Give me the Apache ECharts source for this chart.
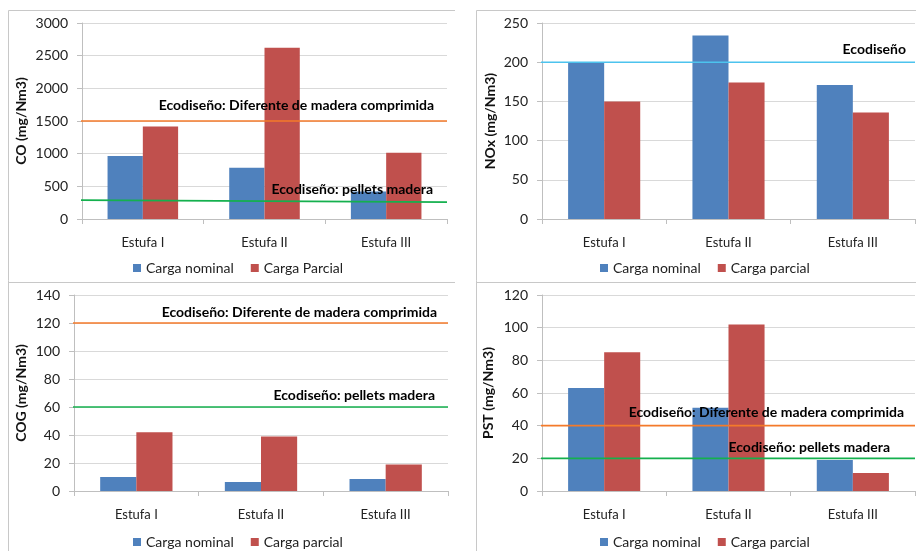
<!DOCTYPE html>
<html><head><meta charset="utf-8">
<script src="https://cdn.jsdelivr.net/npm/echarts@6/dist/echarts.min.js"></script>
<style>html,body{margin:0;padding:0;background:#fff}#c{width:916px;height:551px}</style>
</head><body><div id="c"></div>
<script>
const categories = ['Estufa I', 'Estufa II', 'Estufa III'];
const coNominal = [965, 785, 420];
const coParcial = [1415, 2620, 1015];
const noxNominal = [199, 234, 171];
const noxParcial = [150, 174, 136];
const cogNominal = [10, 6.5, 8.5];
const cogParcial = [42, 39, 19];
const pstNominal = [63, 51, 19];
const pstParcial = [85, 102, 11];
// limit lines: [value at left, value at right]
const coLimitMadera = [1500, 1500];
const coLimitPellets = [290, 258];
const noxLimit = [200, 200];
const cogLimitMadera = [120, 120];
const cogLimitPellets = [60, 60];
const pstLimitMadera = [40, 40];
const pstLimitPellets = [20, 20];
const yNames = ['CO (mg/Nm3)', 'NOx (mg/Nm3)', 'COG (mg/Nm3)', 'PST (mg/Nm3)'];
const yMax = [3000, 250, 140, 120];
const yStep = [500, 50, 20, 20];
const labelMadera = 'Ecodiseño: Diferente de madera comprimida';
const labelPellets = 'Ecodiseño: pellets madera';
const labelNox = 'Ecodiseño';

const BLUE = '#4F81BD', RED = '#C0504D', ORANGE = '#F47A2A', GREEN = '#14B04E', CYAN = '#4CC3EE';
const FONT = 'Lato';
const grids = [
  {left: 82, top: 23, width: 365, height: 196},
  {left: 542, top: 23, width: 373, height: 196},
  {left: 74, top: 295, width: 374, height: 196},
  {left: 542, top: 295, width: 373, height: 196}
];
const nameGaps = [54, 45, 46, 47];
const X0 = -0.022;

const xAxes = [], yAxes = [];
grids.forEach((g, i) => {
  xAxes.push({
    type: 'category', gridIndex: i, data: categories,
    axisLine: {lineStyle: {color: '#bfbfbf'}},
    axisTick: {show: true, length: 5, lineStyle: {color: '#bfbfbf'}},
    axisLabel: {color: '#222', fontFamily: FONT, fontSize: 13, margin: 17}
  });
  yAxes.push({
    type: 'value', gridIndex: i, min: 0, max: yMax[i], interval: yStep[i],
    name: yNames[i], nameLocation: 'middle', nameGap: nameGaps[i],
    nameTextStyle: {color: '#111', fontFamily: FONT, fontWeight: 'bold', fontSize: 14},
    axisLine: {show: true, lineStyle: {color: '#bfbfbf'}},
    axisTick: {show: true, length: 5, lineStyle: {color: '#bfbfbf'}},
    axisLabel: {color: '#222', fontFamily: FONT, fontSize: 14, margin: 14, formatter: v => String(v)},
    splitLine: {lineStyle: {color: '#d9d9d9'}}
  });
});
grids.forEach((g, i) => {
  xAxes.push({type: 'value', gridIndex: i, min: 0, max: 1, show: false});
});

function bars(name, data, color, i) {
  return {
    type: 'bar', name, data, xAxisIndex: i, yAxisIndex: i,
    barGap: '0%', barCategoryGap: '42%',
    itemStyle: {color}, z: 2
  };
}
function limit(vals, color, i, text, dx, dy) {
  return {
    type: 'line', xAxisIndex: 4 + i, yAxisIndex: i, clip: false,
    symbol: 'circle', symbolSize: 0, silent: true, z: 3,
    lineStyle: {color, width: 1.6},
    data: [
      [X0, vals[0]],
      {value: [1, vals[1]], label: {
        show: !!text, formatter: text, position: 'top', align: 'right',
        offset: [dx, dy], color: '#000', fontFamily: FONT, fontWeight: 'bold', fontSize: 14
      }}
    ]
  };
}

const series = [
  bars('Carga nominal', coNominal, BLUE, 0),
  bars('Carga Parcial', coParcial, RED, 0),
  limit(coLimitMadera, ORANGE, 0, labelMadera, -13, -4),
  limit(coLimitPellets, GREEN, 0, labelPellets, -14, -1),
  bars('Carga nominal', noxNominal, BLUE, 1),
  bars('Carga parcial', noxParcial, RED, 1),
  limit(noxLimit, CYAN, 1, labelNox, -9, -1),
  bars('Carga nominal', cogNominal, BLUE, 2),
  bars('Carga parcial', cogParcial, RED, 2),
  limit(cogLimitMadera, ORANGE, 2, labelMadera, -11, 1),
  limit(cogLimitPellets, GREEN, 2, labelPellets, -13, 0),
  bars('Carga nominal', pstNominal, BLUE, 3),
  bars('Carga parcial', pstParcial, RED, 3),
  limit(pstLimitMadera, ORANGE, 3, labelMadera, -11, -1),
  limit(pstLimitPellets, GREEN, 3, labelPellets, -25, 1)
];

function legend(left, top, names) {
  return {
    left, top, data: names, itemWidth: 8, itemHeight: 8, itemGap: 17, icon: 'rect',
    selectedMode: false,
    textStyle: {color: '#222', fontFamily: FONT, fontSize: 14}
  };
}
const legends = [
  legend(128, 256, ['Carga nominal', 'Carga Parcial']),
  legend(595, 256, ['Carga nominal', 'Carga parcial']),
  legend(128, 530, ['Carga nominal', 'Carga parcial']),
  legend(595, 530, ['Carga nominal', 'Carga parcial'])
];

const frame = {stroke: '#c8c8c8', lineWidth: 1};
const graphic = [
  {type: 'line', shape: {x1: 8.5, y1: 10.5, x2: 455, y2: 10.5}, style: frame, silent: true},
  {type: 'line', shape: {x1: 8.5, y1: 10.5, x2: 8.5, y2: 551}, style: frame, silent: true},
  {type: 'line', shape: {x1: 8.5, y1: 282.5, x2: 455, y2: 282.5}, style: frame, silent: true},
  {type: 'line', shape: {x1: 476.5, y1: 10.5, x2: 916, y2: 10.5}, style: frame, silent: true},
  {type: 'line', shape: {x1: 476.5, y1: 10.5, x2: 476.5, y2: 551}, style: frame, silent: true},
  {type: 'line', shape: {x1: 476.5, y1: 282.5, x2: 916, y2: 282.5}, style: frame, silent: true}
];

const chart = echarts.init(document.getElementById('c'), null, {renderer: 'canvas'});
chart.setOption({
  backgroundColor: '#fff',
  animation: false,
  textStyle: {fontFamily: FONT},
  grid: grids,
  xAxis: xAxes,
  yAxis: yAxes,
  legend: legends,
  graphic,
  series
});
</script></body></html>
